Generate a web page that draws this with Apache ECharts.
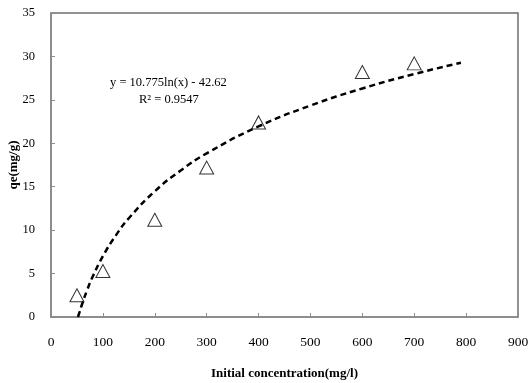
<!DOCTYPE html>
<html>
<head>
<meta charset="utf-8">
<script src="https://cdn.jsdelivr.net/npm/echarts@6/dist/echarts.min.js"></script>
<style>
  html, body { margin: 0; padding: 0; background: #fff; }
  #chart { width: 529px; height: 383px; }
</style>
</head>
<body>
<div id="chart"></div>
<script>
// measured points (initial concentration, qe)
const concX = [50, 100, 200, 300, 400, 600, 700];
const qeY = [2.5, 5.3, 11.2, 17.2, 22.4, 28.2, 29.2];

// log trendline
const trendX = [52, 55, 60, 70, 80, 100, 125, 150, 200, 250, 300, 400, 500, 600, 700, 790];
const trendY = [0.0, 0.56, 1.5, 3.16, 4.6, 7.0, 9.4, 11.37, 14.47, 16.87, 18.84, 21.94, 24.34, 26.31, 27.97, 29.27];

const eqText = "y = 10.775ln(x) - 42.62";
const r2Text = "R² = 0.9547";

const font = "'Liberation Serif', 'Times New Roman', serif";
const chart = echarts.init(document.getElementById("chart"));

const axisCommon = {
  axisLine: { show: true, lineStyle: { color: "#8c8c8c", width: 1.5 } },
  axisTick: { show: true, inside: true, length: 4, lineStyle: { color: "#8c8c8c" } },
  splitLine: { show: false },
  axisLabel: { color: "#000", fontFamily: font, fontSize: 13.5 },
  nameTextStyle: { color: "#000", fontFamily: font, fontSize: 13, fontWeight: "bold" },
  nameMoveOverlap: false,
};

chart.setOption({
  animation: false,
  backgroundColor: "#fff",
  grid: {
    left: 51, right: 11, top: 13, bottom: 66,
    containLabel: false,
    outerBoundsMode: "none",
    show: true, borderColor: "#6e6e6e", borderWidth: 1.5,
  },
  xAxis: {
    ...axisCommon,
    type: "value",
    min: 0, max: 900, interval: 100,
    name: "Initial concentration(mg/l)",
    nameLocation: "middle",
    nameGap: 50,
    axisLabel: { ...axisCommon.axisLabel, margin: 18 },
  },
  yAxis: {
    ...axisCommon,
    type: "value",
    min: 0, max: 35, interval: 5,
    name: "qe(mg/g)",
    nameLocation: "middle",
    nameGap: 31,
    axisLabel: { ...axisCommon.axisLabel, fontSize: 12.5, margin: 16 },
  },
  graphic: [
    {
      type: "text",
      left: 110, top: 76,
      style: { text: eqText, font: "12.5px " + font, fill: "#000" },
    },
    {
      type: "text",
      left: 139, top: 93,
      style: { text: r2Text, font: "12.5px " + font, fill: "#000" },
    },
  ],
  series: [
    {
      type: "line",
      data: trendX.map((x, i) => [x, trendY[i]]),
      smooth: true,
      showSymbol: false,
      lineStyle: { color: "#000", width: 2.5, type: [6, 4] },
      z: 2,
    },
    {
      type: "scatter",
      data: concX.map((x, i) => [x, qeY[i]]),
      symbol: "triangle",
      symbolSize: [14, 13],
      itemStyle: { color: "rgba(255,255,255,0)", borderColor: "#000", borderWidth: 1 },
      z: 3,
    },
  ],
});
</script>
</body>
</html>
